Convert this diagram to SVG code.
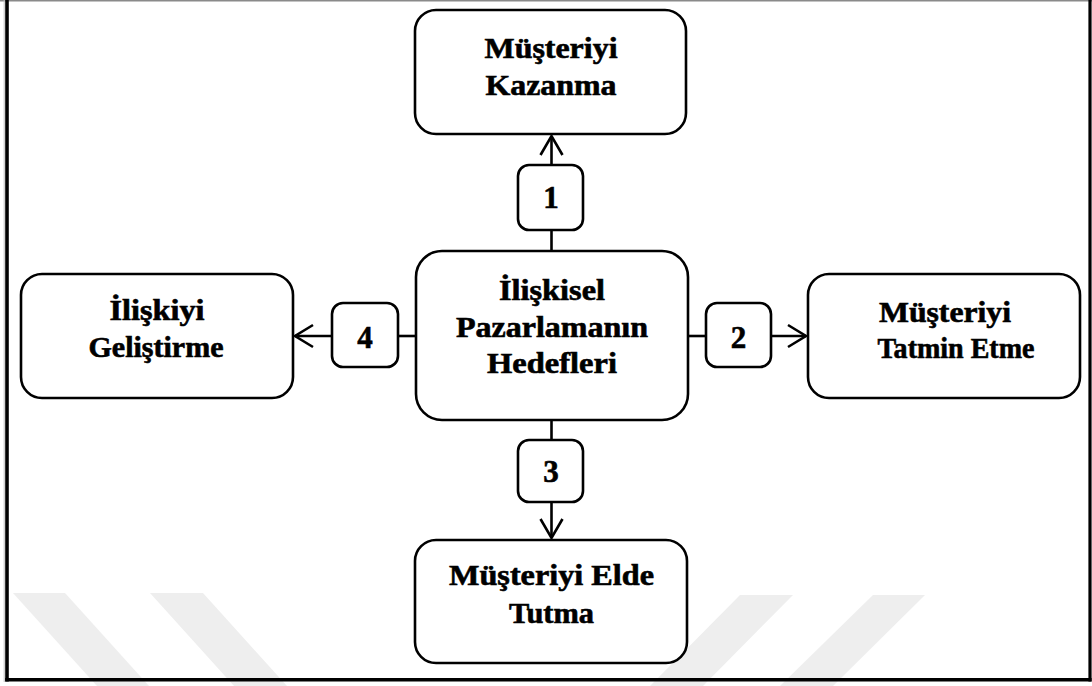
<svg xmlns="http://www.w3.org/2000/svg" width="1092" height="686" viewBox="0 0 1092 686">
  <defs>
    <style>
      .box { fill: #ffffff; stroke: #000000; stroke-width: 2.6; }
      .tag { fill: #ffffff; stroke: #000000; stroke-width: 2.6; }
      .wire { fill: none; stroke: #000000; stroke-width: 2.6; stroke-linecap: butt; }
      .head { fill: none; stroke: #000000; stroke-width: 2.6; stroke-linejoin: miter; }
      .lbl { font-family: "Liberation Serif", "Times New Roman", serif; font-weight: bold; font-size: 28.5px; fill: #000000; stroke: #000000; stroke-width: 0.6; text-anchor: middle; }
      .num { font-family: "Liberation Serif", "Times New Roman", serif; font-weight: bold; font-size: 31px; fill: #000000; stroke: #000000; stroke-width: 0.6; text-anchor: middle; }
      .mark { fill: #eeeeee; }
    </style>
  </defs>

  <rect x="0" y="0" width="1092" height="686" fill="#ffffff"/>

  <!-- faint background stripes -->
  <g id="stripes">
    <polygon class="mark" points="13,593 65,593 149,686 97,686"/>
    <polygon class="mark" points="150,593 203,593 287,686 234,686"/>
    <polygon class="mark" points="740,595 793,595 703,686 650,686"/>
    <polygon class="mark" points="873,595 925,595 833,686 780,686"/>
  </g>

  <!-- outer frame -->
  <g id="frame">
    <line x1="0" y1="0.8" x2="1092" y2="0.8" stroke="#8a8a8a" stroke-width="1.6"/>
    <line x1="4.2" y1="0" x2="4.2" y2="682" stroke="#bdbdbd" stroke-width="1"/>
    <line x1="7" y1="0" x2="7" y2="681.5" stroke="#000000" stroke-width="3.6"/>
    <line x1="1090" y1="0" x2="1090" y2="681.5" stroke="#000000" stroke-width="3.2"/>
    <line x1="5.2" y1="679.8" x2="1091.6" y2="679.8" stroke="#000000" stroke-width="3.6"/>
  </g>

  <!-- connectors -->
  <g id="connectors">
    <!-- up: centre to Müşteriyi Kazanma -->
    <line class="wire" x1="551.5" y1="251" x2="551.5" y2="230"/>
    <line class="wire" x1="551.5" y1="165" x2="551.5" y2="136"/>
    <path class="head" d="M540.5,155 L551.5,136 L562.5,155"/>
    <!-- right: centre to Müşteriyi Tatmin Etme -->
    <line class="wire" x1="688" y1="336" x2="706" y2="336"/>
    <line class="wire" x1="771" y1="336" x2="806" y2="336"/>
    <path class="head" d="M788,325 L806,336 L788,347"/>
    <!-- down: centre to Müşteriyi Elde Tutma -->
    <line class="wire" x1="551.5" y1="420" x2="551.5" y2="440"/>
    <line class="wire" x1="551.5" y1="502" x2="551.5" y2="538"/>
    <path class="head" d="M540.5,519 L551.5,538 L562.5,519"/>
    <!-- left: centre to İlişkiyi Geliştirme -->
    <line class="wire" x1="416" y1="336" x2="398" y2="336"/>
    <line class="wire" x1="332" y1="336" x2="295" y2="336"/>
    <path class="head" d="M313,325 L295,336 L313,347"/>
  </g>

  <!-- numbered tags on the connectors -->
  <g id="tag-1">
    <rect class="tag" x="518" y="165" width="65" height="65" rx="11"/>
    <text class="num" x="551" y="208">1</text>
  </g>
  <g id="tag-2">
    <rect class="tag" x="706" y="303" width="65" height="64" rx="11"/>
    <text class="num" x="738.5" y="348">2</text>
  </g>
  <g id="tag-3">
    <rect class="tag" x="518" y="440" width="65" height="62" rx="11"/>
    <text class="num" x="551" y="482">3</text>
  </g>
  <g id="tag-4">
    <rect class="tag" x="332" y="303" width="66" height="64" rx="11"/>
    <text class="num" x="365" y="348">4</text>
  </g>

  <!-- goal nodes -->
  <g id="node-centre">
    <rect class="box" x="416" y="251" width="272" height="169" rx="26"/>
    <text class="lbl" x="552" y="300" textLength="106" lengthAdjust="spacingAndGlyphs">İlişkisel</text>
    <text class="lbl" x="552" y="337" textLength="192" lengthAdjust="spacingAndGlyphs">Pazarlamanın</text>
    <text class="lbl" x="552" y="373" textLength="130" lengthAdjust="spacingAndGlyphs">Hedefleri</text>
  </g>

  <g id="node-kazanma">
    <rect class="box" x="415" y="10" width="271" height="124" rx="21"/>
    <text class="lbl" x="551" y="58" textLength="133" lengthAdjust="spacingAndGlyphs">Müşteriyi</text>
    <text class="lbl" x="551" y="95" textLength="131" lengthAdjust="spacingAndGlyphs">Kazanma</text>
  </g>

  <g id="node-tatmin">
    <rect class="box" x="808" y="274" width="272" height="124" rx="21"/>
    <text class="lbl" x="945" y="322" textLength="132" lengthAdjust="spacingAndGlyphs">Müşteriyi</text>
    <text class="lbl" x="956" y="358" textLength="157" lengthAdjust="spacingAndGlyphs">Tatmin Etme</text>
  </g>

  <g id="node-elde">
    <rect class="box" x="415" y="540" width="272" height="123" rx="21"/>
    <text class="lbl" x="551.5" y="585" textLength="205" lengthAdjust="spacingAndGlyphs">Müşteriyi Elde</text>
    <text class="lbl" x="551.5" y="623" textLength="85" lengthAdjust="spacingAndGlyphs">Tutma</text>
  </g>

  <g id="node-gelistirme">
    <rect class="box" x="21" y="274" width="272" height="124" rx="21"/>
    <text class="lbl" x="157" y="320" textLength="95" lengthAdjust="spacingAndGlyphs">İlişkiyi</text>
    <text class="lbl" x="156" y="357" textLength="135" lengthAdjust="spacingAndGlyphs">Geliştirme</text>
  </g>
</svg>
